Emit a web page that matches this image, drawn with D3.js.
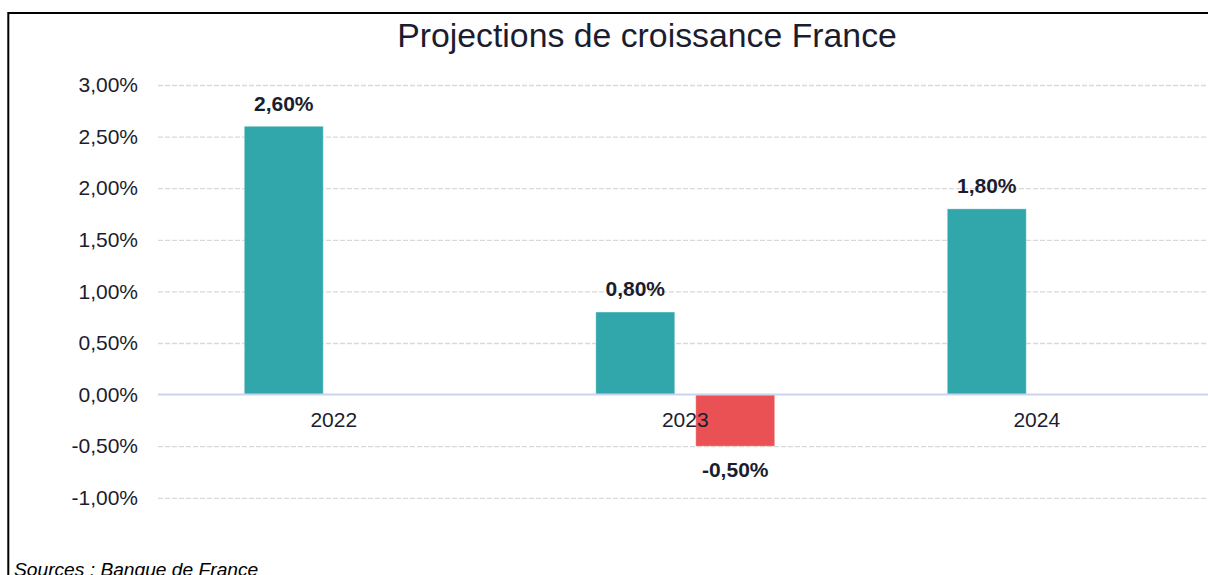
<!DOCTYPE html>
<html>
<head>
<meta charset="utf-8">
<script src="https://cdn.jsdelivr.net/npm/d3@7"></script>
<style>
  body { margin: 0; background: #fff; }
  svg { display: block; font-family: "Liberation Sans", Arial, sans-serif; }
</style>
</head>
<body>
<div id="canvas"></div>
<script>
"use strict"

/* data */
let categories = ["2022", "2023", "2024"];
let seriesNames = ["Scénario central", "Scénario dégradé"];
let seriesCentral = [2.6, 0.8, 1.8];
let seriesDegrade = [null, -0.5, null];
let yTicks = [-1, -0.5, 0, 0.5, 1, 1.5, 2, 2.5, 3];
let seriesColors = ["#31a7ab", "#ea5155"];

let width = 1208, height = 575;
let textColor = "#1b1d2e";

let drawing = d3.select("#canvas")
    .append("svg")
    .attr("width", width)
    .attr("height", height);

/* scales */
let x0 = d3.scaleBand()
    .domain(categories)
    .range([158, 1212.5])
    .paddingInner(0.491)
    .paddingOuter(0.2455);

let x1 = d3.scaleBand()
    .domain(seriesNames)
    .range([0, x0.bandwidth()])
    .paddingInner(0.21);

let y = d3.scaleLinear()
    .domain([-1, 3])
    .range([497.8, 85]);

/* french format, plain hyphen for negatives */
let fmt = v => d3.format(".2f")(v).replace(".", ",").replace("\u2212", "-") + "%";

/* frame */
let frame = drawing.append("path")
    .attr("d", "M8.3," + (height + 5) + " L8.3,13 L" + (width + 5) + ",13")
    .attr("fill", "none")
    .attr("stroke", "#000")
    .attr("stroke-width", 2);

/* title */
drawing.append("text")
    .attr("x", 647)
    .attr("y", 47.3)
    .attr("text-anchor", "middle")
    .attr("font-size", 33.8)
    .attr("fill", textColor)
    .text("Projections de croissance France");

/* y axis: gridlines + labels */
let yAxis = drawing.append("g")
    .attr("transform", "translate(158,0)")
    .call(d3.axisLeft(y).tickValues(yTicks).tickSize(-(width - 158)).tickPadding(20).tickFormat(fmt));
yAxis.select(".domain").remove();
yAxis.selectAll(".tick line")
    .attr("stroke", "#d9d9d9")
    .attr("stroke-width", 1.3)
    .attr("stroke-dasharray", "5,2")
    .filter(d => d === 0)
    .attr("stroke", "transparent");
yAxis.selectAll(".tick text")
    .attr("font-size", 21)
    .attr("font-family", "Liberation Sans, Arial, sans-serif")
    .attr("fill", textColor);

/* bars */
let rows = categories.map((c, i) => ({
    cat: c,
    vals: [seriesCentral[i], seriesDegrade[i]]
}));

let groups = drawing.append("g")
    .selectAll("g")
    .data(rows)
    .join("g")
    .attr("transform", d => "translate(" + x0(d.cat) + ",0)");

let bars = groups.selectAll("rect")
    .data(d => d.vals.map((v, k) => ({ name: seriesNames[k], v: v, k: k })).filter(e => e.v !== null))
    .join("rect")
    .attr("x", d => x1(d.name))
    .attr("width", x1.bandwidth())
    .attr("y", d => y(Math.max(0, d.v)))
    .attr("height", d => Math.abs(y(d.v) - y(0)))
    .attr("fill", d => seriesColors[d.k])
    .attr("stroke", "#ffffff")
    .attr("stroke-opacity", 0.35)
    .attr("stroke-width", 1);

/* zero line */
drawing.append("line")
    .attr("x1", 158)
    .attr("x2", width)
    .attr("y1", y(0))
    .attr("y2", y(0))
    .attr("stroke", "#cbd4ee")
    .attr("stroke-width", 2);

/* category labels */
let xAxis = drawing.append("g")
    .attr("transform", "translate(0," + y(0) + ")")
    .call(d3.axisBottom(x0).tickSize(0).tickPadding(17));
xAxis.select(".domain").remove();
xAxis.selectAll(".tick text")
    .attr("font-size", 21)
    .attr("font-family", "Liberation Sans, Arial, sans-serif")
    .attr("fill", textColor);

/* value labels */
groups.selectAll("text.val")
    .data(d => d.vals.map((v, k) => ({ name: seriesNames[k], v: v })).filter(e => e.v !== null))
    .join("text")
    .attr("class", "val")
    .attr("x", d => x1(d.name) + x1.bandwidth() / 2)
    .attr("y", d => d.v >= 0 ? y(d.v) - 15.7 : y(d.v) + 31)
    .attr("text-anchor", "middle")
    .attr("font-size", 21)
    .attr("font-weight", "bold")
    .attr("fill", textColor)
    .text(d => fmt(d.v));

/* source */
drawing.append("text")
    .attr("x", 14)
    .attr("y", 575.5)
    .attr("font-size", 19.2)
    .attr("font-style", "italic")
    .attr("fill", "#000")
    .text("Sources : Banque de France");
</script>
</body>
</html>
